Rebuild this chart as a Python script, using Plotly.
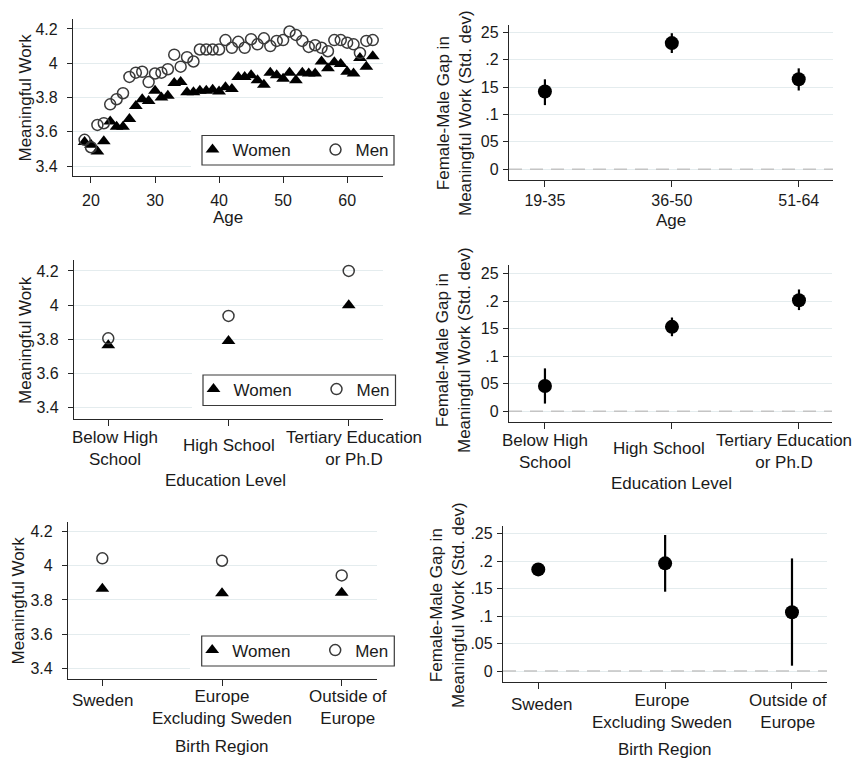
import plotly.graph_objects as go

W, H = 857, 758

# ---------------- data ----------------
age = list(range(19, 65))
women_age = [3.54, 3.525, 3.485, 3.545, 3.66, 3.63, 3.63, 3.675, 3.75, 3.79,
             3.78, 3.84, 3.80, 3.81, 3.885, 3.89, 3.83, 3.83, 3.84, 3.84,
             3.845, 3.835, 3.86, 3.85, 3.92, 3.92, 3.93, 3.90, 3.875, 3.945,
             3.93, 3.91, 3.945, 3.90, 3.945, 3.94, 3.94, 4.01, 3.97, 4.005,
             3.995, 3.95, 3.94, 4.03, 3.98, 4.04]
men_age = [3.553, 3.51, 3.64, 3.65, 3.76, 3.79, 3.825, 3.92, 3.945, 3.95,
           3.89, 3.94, 3.945, 3.965, 4.05, 3.98, 4.035, 4.01, 4.08, 4.08,
           4.08, 4.08, 4.135, 4.09, 4.125, 4.09, 4.14, 4.11, 4.145, 4.10,
           4.13, 4.135, 4.185, 4.165, 4.13, 4.095, 4.105, 4.09, 4.07, 4.135,
           4.135, 4.12, 4.11, 4.06, 4.13, 4.135]

age_groups = ["19-35", "36-50", "51-64"]
gap_age = [0.1417, 0.230, 0.164]
gap_age_lo = [0.117, 0.212, 0.1436]
gap_age_hi = [0.164, 0.248, 0.184]

edu_levels = ["Below High<br>School", "High School", "Tertiary Education<br>or Ph.D"]
women_edu = [3.765, 3.79, 4.0]
men_edu = [3.806, 3.937, 4.2]
gap_edu = [0.046, 0.1535, 0.202]
gap_edu_lo = [0.014, 0.1365, 0.184]
gap_edu_hi = [0.078, 0.1705, 0.2215]

regions = ["Sweden", "Europe<br>Excluding Sweden", "Outside of<br>Europe"]
women_reg = [3.866, 3.839, 3.843]
men_reg = [4.044, 4.03, 3.944]
gap_reg = [0.185, 0.196, 0.107]
gap_reg_lo = [0.175, 0.1444, 0.0097]
gap_reg_hi = [0.196, 0.2476, 0.205]

age_ticks = [20, 30, 40, 50, 60]
mw_ticks = [3.4, 3.6, 3.8, 4.0, 4.2]
mw_ticktext = ["3.4", "3.6", "3.8", "4", "4.2"]
gap_ticks = [0, 0.05, 0.1, 0.15, 0.2, 0.25]
gap_ticktext_top = ["0", "05", ".1", "15", ".2", "25"]
gap_ticktext_bot = ["0", ".05", ".1", ".15", ".2", ".25"]

# ---------------- helpers ----------------
FONT = "Liberation Sans, Arial, sans-serif"
TXT = "#1a1a1a"
AX = "#262626"
GRID = "#e4ecee"


def fx(px):
    return px / W


def fy(py):
    return 1 - py / H


fig = go.Figure()

# panel pixel boxes: (left, right, top, bottom)
boxes = {
    1: (73, 383, 19, 176),
    2: (509, 833, 25, 180),
    3: (74, 383, 260, 419),
    4: (509, 832, 265, 422),
    5: (68, 377, 522, 679),
    6: (503, 827, 526, 682),
}

women_style = dict(symbol="triangle-up", size=12, color="black")
men_style = dict(symbol="circle-open", size=11, color="#3a3a3a", line=dict(width=1.5, color="#3a3a3a"))

# left panels
left_sets = [
    (1, age, women_age, men_age, "legend"),
    (3, edu_levels, women_edu, men_edu, "legend2"),
    (5, regions, women_reg, men_reg, "legend3"),
]
for k, xs, w, m, lg in left_sets:
    sfx = "" if k == 1 else str(k)
    fig.add_trace(go.Scatter(x=xs, y=w, mode="markers", marker=women_style, name="Women",
                             xaxis="x" + sfx, yaxis="y" + sfx, legend=lg, cliponaxis=False))
    fig.add_trace(go.Scatter(x=xs, y=m, mode="markers", marker=men_style, name="Men",
                             xaxis="x" + sfx, yaxis="y" + sfx, legend=lg, cliponaxis=False))

# right panels
right_sets = [
    (2, age_groups, gap_age, gap_age_lo, gap_age_hi),
    (4, edu_levels, gap_edu, gap_edu_lo, gap_edu_hi),
    (6, regions, gap_reg, gap_reg_lo, gap_reg_hi),
]
for k, xs, g, lo, hi in right_sets:
    fig.add_trace(go.Scatter(
        x=xs, y=g, mode="markers", showlegend=False,
        marker=dict(symbol="circle", size=14, color="black"),
        error_y=dict(type="data", symmetric=False,
                     array=[h - v for h, v in zip(hi, g)],
                     arrayminus=[v - l for v, l in zip(g, lo)],
                     thickness=2.2, width=0, color="black"),
        xaxis="x" + str(k), yaxis="y" + str(k), cliponaxis=False))

layout = dict(width=W, height=H, margin=dict(l=0, r=0, t=0, b=0),
              paper_bgcolor="white", plot_bgcolor="white", showlegend=True,
              font=dict(family=FONT, size=17, color=TXT))

base_x = dict(showline=True, linecolor=AX, linewidth=1.3, ticks="outside", ticklen=6,
              tickcolor=AX, tickwidth=1.3, showgrid=False, zeroline=False,
              tickfont=dict(family=FONT, size=16, color=TXT))
base_y = dict(showline=True, linecolor=AX, linewidth=1.3, ticks="outside", ticklen=5,
              tickcolor=AX, tickwidth=1.3, showgrid=True, gridcolor=GRID, gridwidth=1,
              zeroline=False, tickfont=dict(family=FONT, size=16, color=TXT))

x_ranges = {1: [17.19, 65.6], 2: [-0.283, 2.27], 3: [-0.285, 2.285],
            4: [-0.283, 2.26], 5: [-0.287, 2.295], 6: [-0.278, 2.276]}
y_ranges = {1: [3.342, 4.258], 2: [-0.0195, 0.263], 3: [3.334, 4.264],
            4: [-0.0195, 0.266], 5: [3.337, 4.257], 6: [-0.02, 0.264]}
cats = {2: age_groups, 3: edu_levels, 4: edu_levels, 5: regions, 6: regions}

for k, (l, r, t, b) in boxes.items():
    sfx = "" if k == 1 else str(k)
    xa = dict(base_x, domain=[fx(l), fx(r)], range=x_ranges[k], anchor="y" + sfx)
    ya = dict(base_y, domain=[fy(b), fy(t)], range=y_ranges[k], anchor="x" + sfx)
    if k == 1:
        xa.update(tickvals=age_ticks, ticklabelstandoff=4)
    else:
        xa.update(type="category", tickvals=cats[k], categoryarray=cats[k],
                  categoryorder="array")
        if k == 2:
            xa.update(showticklabels=True, ticklabelstandoff=0)
        else:
            xa.update(showticklabels=False)
    if k in (1, 3, 5):
        ya.update(tickvals=mw_ticks, ticktext=mw_ticktext, ticklabelstandoff=6)
    else:
        ya.update(tickvals=gap_ticks, ticklabelstandoff=1,
                  ticktext=gap_ticktext_bot if k == 6 else gap_ticktext_top)
    layout["xaxis" + sfx] = xa
    layout["yaxis" + sfx] = ya

# legend frames (left, right, top, bottom) in px, plus where gridlines stop
leg_frames = {
    "legend": (202, 394, 135.5, 165, 191, 1),
    "legend2": (203, 395.5, 375, 405.5, 192, 3),
    "legend3": (201.7, 394.3, 636, 666, 190, 5),
}
shapes = []
for name, (bl, br, bt, bb, gx, k) in leg_frames.items():
    layout[name] = dict(orientation="h", x=fx(bl - 9.5), y=fy(bt - 3.5),
                        xanchor="left", yanchor="top",
                        bgcolor="rgba(0,0,0,0)", borderwidth=0,
                        font=dict(family=FONT, size=17, color=TXT),
                        entrywidth=78, entrywidthmode="pixels", itemclick=False)
    pb = boxes[k][3]
    # white margin: gridlines stop short of the legend box
    shapes.append(dict(type="rect", xref="paper", yref="paper",
                       x0=fx(gx), x1=fx(br + 1), y0=fy(pb - 1.5), y1=fy(bt - 10),
                       fillcolor="white", line=dict(width=0), layer="above"))
    shapes.append(dict(type="rect", xref="paper", yref="paper",
                       x0=fx(bl), x1=fx(br), y0=fy(bb), y1=fy(bt),
                       fillcolor="white", line=dict(width=1.2, color="#3a3a3a"), layer="above"))

# dashed zero reference lines
for k in (2, 4, 6):
    shapes.append(dict(type="line", xref="x%d domain" % k, yref="y%d" % k,
                       x0=0, x1=1, y0=0, y1=0, layer="above",
                       line=dict(color="#c4c4c4", width=1.6, dash="13px,8px")))

fig.update_layout(**layout)
fig.update_layout(shapes=shapes)

ann = []


def add_text(text, x, y, xref="paper", angle=0, size=17, xshift=0):
    ann.append(dict(text=text, x=x, y=y, xref=xref, yref="paper", showarrow=False,
                    xanchor="center", yanchor="middle", textangle=angle, xshift=xshift,
                    font=dict(family=FONT, size=size, color=TXT)))


# y-axis titles
add_text("Meaningful Work", fx(25), fy(97.5), angle=-90)
add_text("Meaningful Work", fx(25), fy(340), angle=-90)
add_text("Meaningful Work", fx(18), fy(600.5), angle=-90)
ytitle_gap = "Female-Male Gap in<br>Meaningful Work (Std. dev)"
add_text(ytitle_gap, fx(454), fy(113), angle=-90)
add_text(ytitle_gap, fx(454), fy(350), angle=-90)
add_text(ytitle_gap, fx(447), fy(605), angle=-90)

# x-axis titles
add_text("Age", fx(228), fy(217))
add_text("Age", fx(671), fy(220))
add_text("Education Level", fx(225), fy(480))
add_text("Education Level", fx(671), fy(483))
add_text("Birth Region", fx(222), fy(746))
add_text("Birth Region", fx(665), fy(749))

# category tick labels (two-line ones centred between their lines)
tick_rows = {
    3: ([448, 445, 448], [7, 0, 5]),
    4: ([451, 448, 451], [0, -13, -15]),
    5: ([700.7, 707, 707], [0, 0, 6]),
    6: ([704, 711.7, 711.7], [3, -3, -4]),
}
for k, (ys, shifts) in tick_rows.items():
    for c, yy, sh in zip(cats[k], ys, shifts):
        add_text(c, c, fy(yy), xref="x%d" % k, xshift=sh)

fig.update_layout(annotations=ann)

fig.write_html("out.html", config={"displayModeBar": False},
               post_script="document.body.style.margin='0px';")
